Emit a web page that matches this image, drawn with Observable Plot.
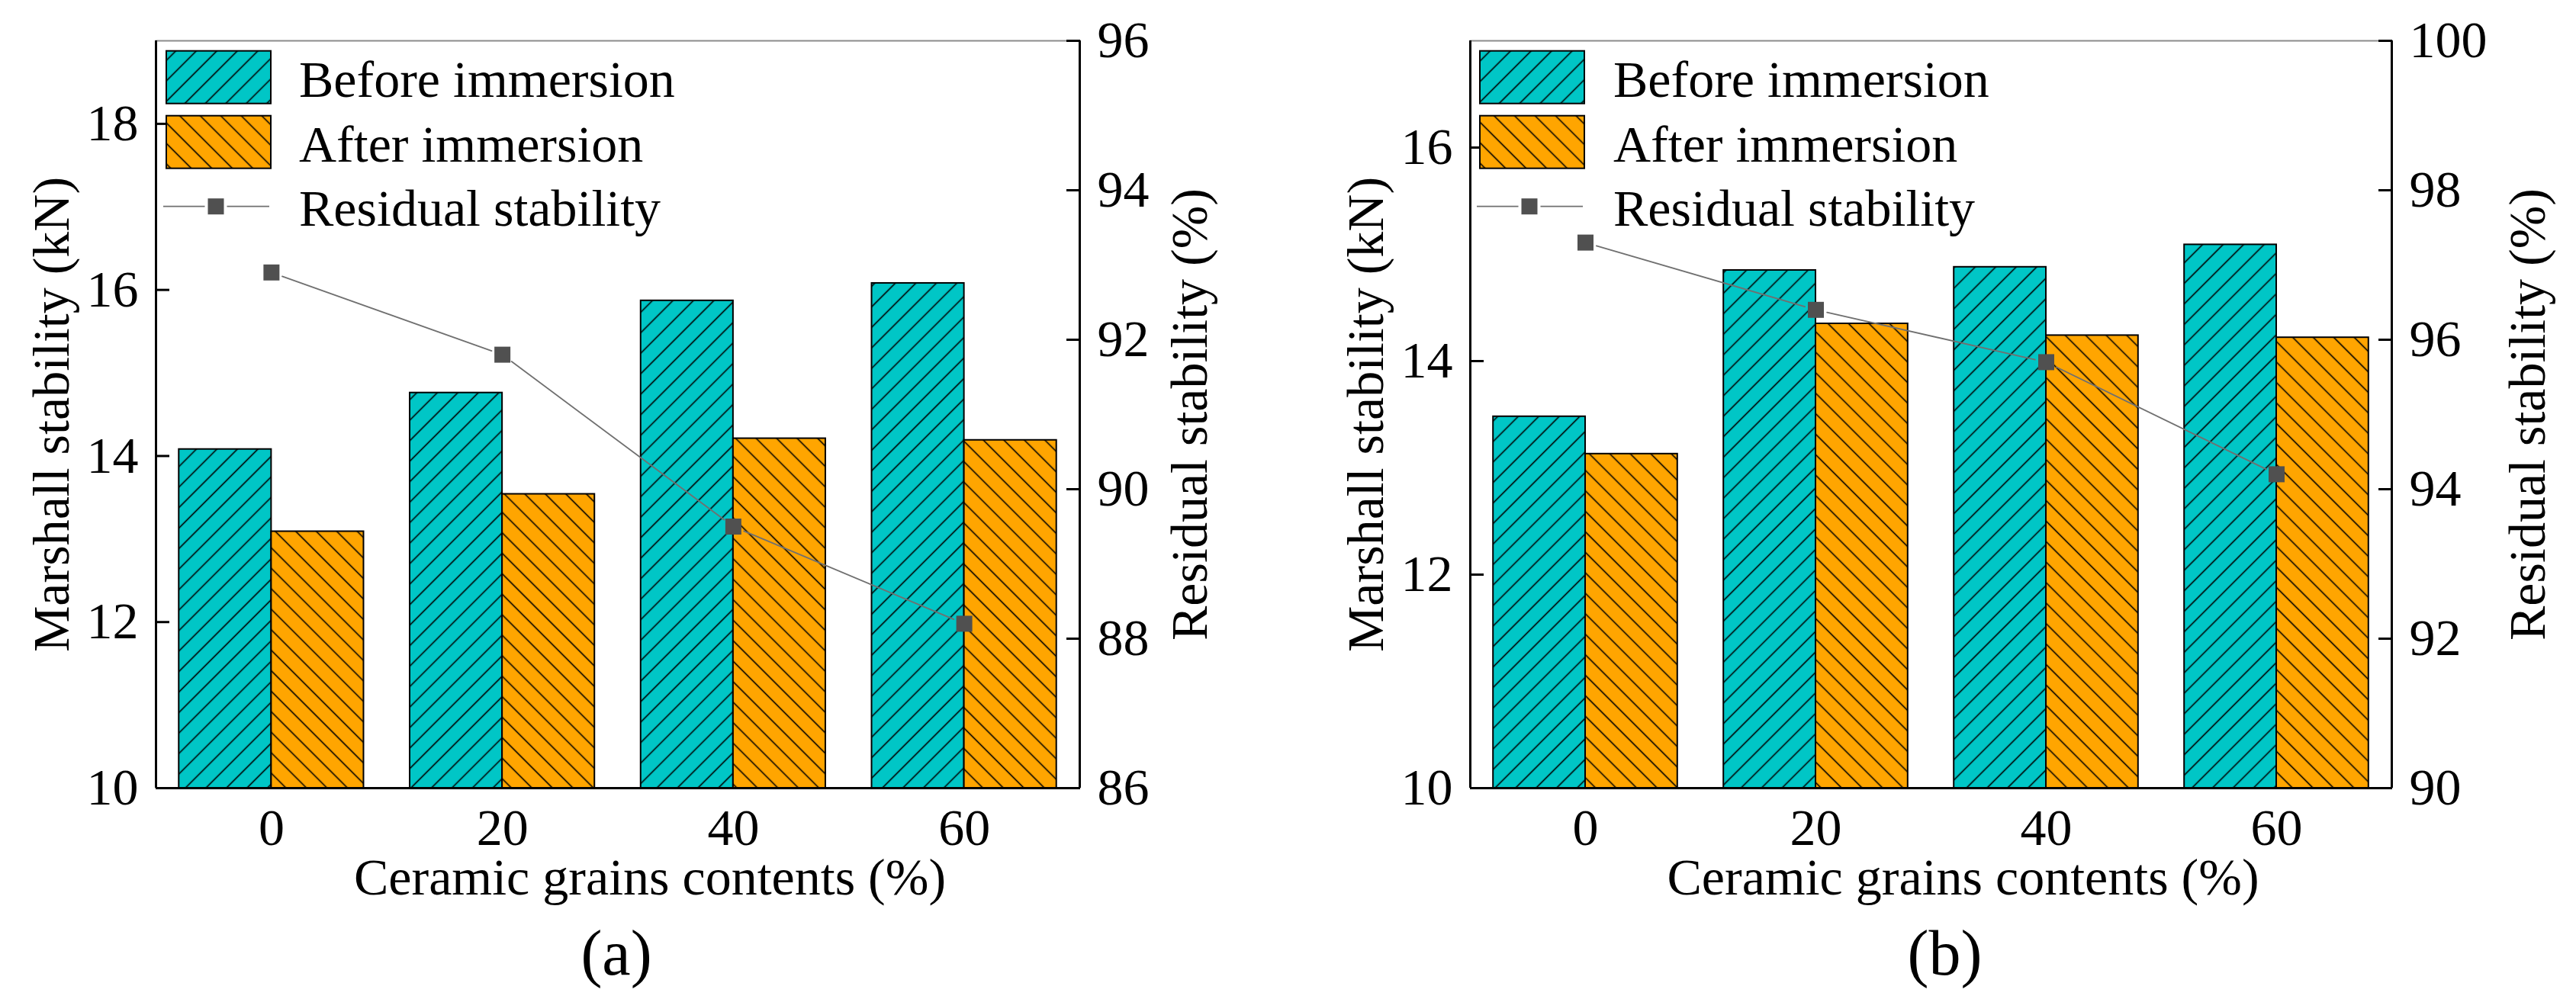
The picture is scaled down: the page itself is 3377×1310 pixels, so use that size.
<!DOCTYPE html>
<html>
<head>
<meta charset="utf-8">
<script src="https://cdn.jsdelivr.net/npm/d3@7"></script>
<script src="https://cdn.jsdelivr.net/npm/@observablehq/plot@0.6"></script>
<style>
  body { margin: 0; background: #fff; }
  #chart { display: flex; width: 3377px; height: 1310px; }
  #chart svg { display: block; }
</style>
</head>
<body>
<div id="chart"></div>
<script>
// ceramic grains contents (%) on the x axis
const contents = ['0', '20', '40', '60']

// panel (a)
const beforeA = [14.08, 14.76, 15.87, 16.08]
const afterA = [13.09, 13.54, 14.21, 14.19]
const residualA = [92.9, 91.8, 89.5, 88.2]
const leftTicksA = [10, 12, 14, 16, 18]
const rightTicksA = [86, 88, 90, 92, 94, 96]

// panel (b)
const beforeB = [13.48, 14.85, 14.88, 15.09]
const afterB = [13.13, 14.35, 14.24, 14.22]
const residualB = [97.3, 96.4, 95.7, 94.2]
const leftTicksB = [10, 12, 14, 16]
const rightTicksB = [90, 92, 94, 96, 98, 100]

const serif = '"Liberation Serif", "Times New Roman", serif'
const teal = '#00C6C6'
const orange = '#FFA500'
const markerGrey = '#505050'
const lineGrey = '#707070'
const legendLabels = ['Before immersion', 'After immersion', 'Residual stability']

function addPatterns(svg, tag) {
  const defs = d3.select(svg).insert('defs', ':first-child')
  const mk = (id, color, angle) => {
    const p = defs.append('pattern')
      .attr('id', id)
      .attr('patternUnits', 'userSpaceOnUse')
      .attr('width', 19).attr('height', 19)
      .attr('patternTransform', `rotate(${angle})`)
    p.append('rect').attr('width', 19).attr('height', 19).attr('fill', color)
    p.append('line').attr('x1', 9.5).attr('x2', 9.5).attr('y1', -1).attr('y2', 20)
      .attr('stroke', 'black').attr('stroke-width', 1.6)
  }
  mk(`hatch-before-${tag}`, teal, 45)
  mk(`hatch-after-${tag}`, orange, -45)
}

function addLegend(svg, cfg) {
  const g = d3.select(svg).append('g')
    .attr('transform', `translate(${cfg.marginLeft},53)`)
    .attr('text-anchor', 'start')
    .style('font-family', serif).style('font-size', '68px')
  const x0 = cfg.legendDx
  g.append('rect').attr('x', x0).attr('y', 13.7).attr('width', 137).attr('height', 69)
    .attr('fill', `url(#hatch-before-${cfg.tag})`).attr('stroke', 'black').attr('stroke-width', 2)
  g.append('rect').attr('x', x0).attr('y', 98.7).attr('width', 137).attr('height', 69)
    .attr('fill', `url(#hatch-after-${cfg.tag})`).attr('stroke', 'black').attr('stroke-width', 2)
  g.append('line').attr('x1', x0 - 4).attr('x2', x0 + 50.5).attr('y1', 217.7).attr('y2', 217.7)
    .attr('stroke', lineGrey).attr('stroke-width', 1.8)
  g.append('line').attr('x1', x0 + 79.5).attr('x2', x0 + 135).attr('y1', 217.7).attr('y2', 217.7)
    .attr('stroke', lineGrey).attr('stroke-width', 1.8)
  g.append('rect').attr('x', x0 + 65 - 10.5).attr('y', 217.7 - 10.5).attr('width', 21).attr('height', 21)
    .attr('fill', markerGrey)
  legendLabels.forEach((t, k) => {
    g.append('text').attr('x', 188).attr('y', 74 + k * 84.5).attr('fill', 'black').text(t)
  })
}

function panel(cfg) {
  const [l0, l1] = cfg.left
  const [r0, r1] = cfg.right
  const toLeft = v => l0 + (v - r0) * (l1 - l0) / (r1 - r0)
  const fromLeft = v => r0 + (v - l0) * (r1 - r0) / (l1 - l0)
  const xDomain = [-0.5, contents.length - 0.5]
  const half = 0.4

  const beforeRows = contents.map((c, i) => ({i, value: cfg.before[i]}))
  const afterRows = contents.map((c, i) => ({i, value: cfg.after[i]}))
  const residualRows = contents.map((c, i) => ({i, value: toLeft(cfg.residual[i])}))
  // consecutive residual points, joined by segments that stop short of the markers
  const segments = residualRows.slice(1).map((d, k) => ({a: residualRows[k], b: d}))

  const chart = Plot.plot({
    width: cfg.width,
    height: 1310,
    marginTop: 53,
    marginBottom: 277,
    marginLeft: cfg.marginLeft,
    marginRight: cfg.marginRight,
    style: {fontFamily: serif, fontSize: '68px', background: 'white', color: 'black'},
    x: {domain: xDomain, label: null},
    y: {domain: cfg.left, label: null},
    marks: [
      Plot.rectY(beforeRows, {
        x1: d => d.i - half, x2: d => d.i, y1: () => l0, y2: 'value',
        fill: `url(#hatch-before-${cfg.tag})`, stroke: 'black', strokeWidth: 2
      }),
      Plot.rectY(afterRows, {
        x1: d => d.i, x2: d => d.i + half, y1: () => l0, y2: 'value',
        fill: `url(#hatch-after-${cfg.tag})`, stroke: 'black', strokeWidth: 2
      }),
      Plot.arrow(segments, {
        x1: d => d.a.i, y1: d => d.a.value, x2: d => d.b.i, y2: d => d.b.value,
        headLength: 0, bend: 0, insetStart: 15, insetEnd: 15,
        stroke: lineGrey, strokeWidth: 1.8
      }),
      Plot.dot(residualRows, {x: 'i', y: 'value', symbol: 'square', r: 11.85, fill: markerGrey}),
      Plot.ruleY([l1], {stroke: '#8c8c8c', strokeWidth: 2}),
      Plot.ruleY([l0], {stroke: 'black', strokeWidth: 3}),
      Plot.ruleX([xDomain[0]], {stroke: 'black', strokeWidth: 3}),
      Plot.ruleX([xDomain[1]], {stroke: 'black', strokeWidth: 3}),
      Plot.axisX(contents.map((c, i) => i), {
        tickSize: 0, tickPadding: 26, tickFormat: i => contents[i], fontSize: 68, label: null
      }),
      Plot.axisY(cfg.leftTicks, {
        anchor: 'left', tickSize: -18, tickPadding: 41, strokeWidth: 3, fontSize: 68, label: null,
        tickFormat: v => String(v)
      }),
      Plot.axisY(cfg.rightTicks.map(toLeft), {
        anchor: 'right', tickSize: -18, tickPadding: 41, strokeWidth: 3, fontSize: 68, label: null,
        tickFormat: v => String(Math.round(fromLeft(v)))
      }),
      Plot.text(['Marshall stability (kN)'], {
        frameAnchor: 'left', dx: -136, rotate: -90, textAnchor: 'middle', lineAnchor: 'middle', fontSize: 68
      }),
      Plot.text(['Residual stability (%)'], {
        frameAnchor: 'right', dx: cfg.rightTitleDx, rotate: -90, textAnchor: 'middle', lineAnchor: 'middle', fontSize: 68
      }),
      Plot.text(['Ceramic grains contents (%)'], {
        frameAnchor: 'bottom', dx: 42, dy: 118, textAnchor: 'middle', lineAnchor: 'middle', fontSize: 68
      }),
      Plot.text([`(${cfg.tag})`], {
        frameAnchor: 'bottom', dx: cfg.captionDx, dy: 218, textAnchor: 'middle', lineAnchor: 'middle',
        fontSize: 84, ariaLabel: 'caption'
      })
    ]
  })

  addPatterns(chart, cfg.tag)
  addLegend(chart, cfg)

  // caption: bold letter inside plain parentheses
  d3.select(chart).selectAll('g[aria-label="caption"] text').each(function () {
    const t = d3.select(this)
    t.text('')
    t.append('tspan').text('(')
    t.append('tspan').attr('font-weight', 'bold').text(cfg.tag)
    t.append('tspan').text(')')
  })
  return chart
}

const panels = [
  {tag: 'a', before: beforeA, after: afterA, residual: residualA, left: [10, 19], right: [86, 96],
   leftTicks: leftTicksA, rightTicks: rightTicksA, width: 1690, marginLeft: 204, marginRight: 275,
   rightTitleDx: 145, captionDx: -2, legendDx: 14},
  {tag: 'b', before: beforeB, after: afterB, residual: residualB, left: [10, 17], right: [90, 100],
   leftTicks: leftTicksB, rightTicks: rightTicksB, width: 1687, marginLeft: 237, marginRight: 242,
   rightTitleDx: 179, captionDx: 18, legendDx: 13}
]

panels.forEach(cfg => {
  d3.select('#chart').append(() => panel(cfg))
})
</script>
</body>
</html>
